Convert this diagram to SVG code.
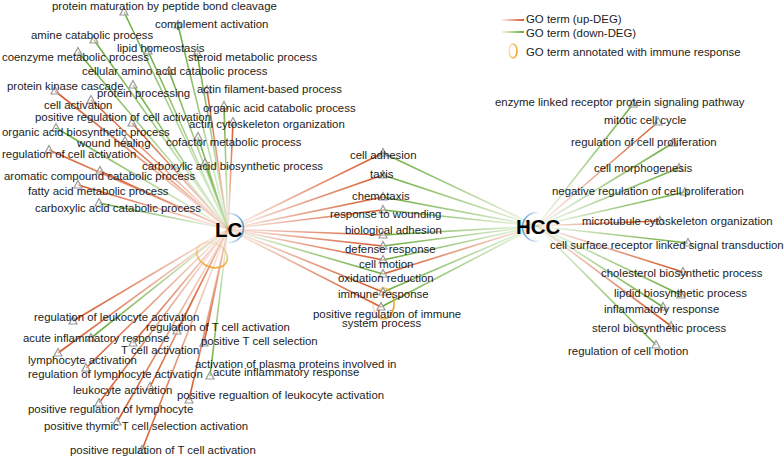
<svg xmlns="http://www.w3.org/2000/svg" xmlns:xlink="http://www.w3.org/1999/xlink" width="784" height="458" viewBox="0 0 784 458">
<style>
.t{font-family:"Liberation Sans",Arial,Helvetica,sans-serif;font-size:11.4px;fill:#1c1c1c}
.hub{font-family:"Liberation Sans",Arial,Helvetica,sans-serif;font-size:20.5px;font-weight:bold;fill:#000}
.e{fill:none;stroke-width:1.6}
.oUL{stroke:url(#oUL)}.oUR{stroke:url(#oUR)}.oDL{stroke:url(#oDL)}.oDR{stroke:url(#oDR)}
.gUL{stroke:url(#gUL)}.gUR{stroke:url(#gUR)}.gDL{stroke:url(#gDL)}.gDR{stroke:url(#gDR)}
.tri{fill:#ffffff;fill-opacity:0.45;stroke:#9a9a9a;stroke-width:1.2}
.imm{fill:none;stroke:url(#immG);stroke-width:1.6}
</style>
<defs>
<linearGradient id="oUL" x1="1" y1="1" x2="0" y2="0"><stop offset="0" stop-color="#d4582a" stop-opacity="0.06"/><stop offset="0.5" stop-color="#d4582a" stop-opacity="0.55"/><stop offset="1" stop-color="#d4582a"/></linearGradient>
<linearGradient id="oUR" x1="0" y1="1" x2="1" y2="0"><stop offset="0" stop-color="#d4582a" stop-opacity="0.06"/><stop offset="0.5" stop-color="#d4582a" stop-opacity="0.55"/><stop offset="1" stop-color="#d4582a"/></linearGradient>
<linearGradient id="oDL" x1="1" y1="0" x2="0" y2="1"><stop offset="0" stop-color="#d4582a" stop-opacity="0.06"/><stop offset="0.5" stop-color="#d4582a" stop-opacity="0.55"/><stop offset="1" stop-color="#d4582a"/></linearGradient>
<linearGradient id="oDR" x1="0" y1="0" x2="1" y2="1"><stop offset="0" stop-color="#d4582a" stop-opacity="0.06"/><stop offset="0.5" stop-color="#d4582a" stop-opacity="0.55"/><stop offset="1" stop-color="#d4582a"/></linearGradient>
<linearGradient id="gUL" x1="1" y1="1" x2="0" y2="0"><stop offset="0" stop-color="#6aac3a" stop-opacity="0.06"/><stop offset="0.5" stop-color="#6aac3a" stop-opacity="0.55"/><stop offset="1" stop-color="#6aac3a"/></linearGradient>
<linearGradient id="gUR" x1="0" y1="1" x2="1" y2="0"><stop offset="0" stop-color="#6aac3a" stop-opacity="0.06"/><stop offset="0.5" stop-color="#6aac3a" stop-opacity="0.55"/><stop offset="1" stop-color="#6aac3a"/></linearGradient>
<linearGradient id="gDL" x1="1" y1="0" x2="0" y2="1"><stop offset="0" stop-color="#6aac3a" stop-opacity="0.06"/><stop offset="0.5" stop-color="#6aac3a" stop-opacity="0.55"/><stop offset="1" stop-color="#6aac3a"/></linearGradient>
<linearGradient id="gDR" x1="0" y1="0" x2="1" y2="1"><stop offset="0" stop-color="#6aac3a" stop-opacity="0.06"/><stop offset="0.5" stop-color="#6aac3a" stop-opacity="0.55"/><stop offset="1" stop-color="#6aac3a"/></linearGradient>
<linearGradient id="legO" x1="0" y1="0" x2="1" y2="0"><stop offset="0" stop-color="#d4582a" stop-opacity="0.1"/><stop offset="1" stop-color="#d4582a"/></linearGradient>
<linearGradient id="legG" x1="0" y1="0" x2="1" y2="0"><stop offset="0" stop-color="#6aac3a" stop-opacity="0.1"/><stop offset="1" stop-color="#6aac3a"/></linearGradient>
<linearGradient id="immG" x1="0" y1="0" x2="1" y2="0.3"><stop offset="0" stop-color="#efa52c" stop-opacity="0.25"/><stop offset="1" stop-color="#efa52c"/></linearGradient>
<linearGradient id="immLC" x1="0.2" y1="0" x2="0.8" y2="1"><stop offset="0" stop-color="#efa52c" stop-opacity="0.1"/><stop offset="1" stop-color="#efa52c"/></linearGradient>
<linearGradient id="blueR" x1="0" y1="0" x2="1" y2="0"><stop offset="0.4" stop-color="#5b9bd5" stop-opacity="0"/><stop offset="1" stop-color="#5b9bd5"/></linearGradient>
<linearGradient id="blueL" x1="1" y1="0" x2="0" y2="0"><stop offset="0.4" stop-color="#5b9bd5" stop-opacity="0"/><stop offset="1" stop-color="#5b9bd5"/></linearGradient>
<path id="tri" class="tri" d="M0,-4.5 L4,3 L-4,3 Z"/>
</defs>
<rect width="784" height="458" fill="#ffffff"/>

<g id="connectors">
<!-- LC top-left -->
<line class="e gUL" x1="228" y1="229" x2="124" y2="12"/>
<line class="e gUL" x1="228" y1="229" x2="178" y2="25"/>
<line class="e gUL" x1="228" y1="229" x2="94" y2="40"/>
<line class="e gUL" x1="228" y1="229" x2="148" y2="51"/>
<line class="e gUL" x1="228" y1="229" x2="78" y2="52"/>
<line class="e gUL" x1="228" y1="229" x2="197" y2="53"/>
<line class="e gUL" x1="228" y1="229" x2="169" y2="71"/>
<line class="e oUL" x1="228" y1="229" x2="55" y2="91"/>
<line class="e gUL" x1="228" y1="229" x2="133" y2="85"/>
<line class="e oUL" x1="228" y1="229" x2="207" y2="90"/>
<line class="e oUL" x1="228" y1="229" x2="91" y2="100"/>
<line class="e gUL" x1="228" y1="229" x2="224" y2="106"/>
<line class="e oUL" x1="228" y1="229" x2="132" y2="123"/>
<line class="e oUR" x1="228" y1="229" x2="233" y2="122"/>
<line class="e gUL" x1="228" y1="229" x2="56" y2="128"/>
<line class="e oUL" x1="228" y1="229" x2="125" y2="141"/>
<line class="e gUL" x1="228" y1="229" x2="198" y2="137"/>
<line class="e oUL" x1="228" y1="229" x2="49" y2="150"/>
<line class="e gUL" x1="228" y1="229" x2="205" y2="163"/>
<line class="e oUL" x1="228" y1="229" x2="100" y2="171"/>
<line class="e oUL" x1="228" y1="229" x2="78" y2="185"/>
<line class="e gUL" x1="228" y1="229" x2="99" y2="203"/>
<!-- LC to middle -->
<line class="e oUR" x1="228" y1="229" x2="383" y2="153"/>
<line class="e oUR" x1="228" y1="229" x2="383" y2="175"/>
<line class="e oUR" x1="228" y1="229" x2="383" y2="197"/>
<line class="e oUR" x1="228" y1="229" x2="383" y2="210"/>
<line class="e oDR" x1="228" y1="229" x2="383" y2="235"/>
<line class="e oDR" x1="228" y1="229" x2="383" y2="246"/>
<line class="e oDR" x1="228" y1="229" x2="383" y2="260"/>
<line class="e gDR" x1="228" y1="229" x2="383" y2="274"/>
<line class="e oDR" x1="228" y1="229" x2="383" y2="292"/>
<line class="e oDR" x1="228" y1="229" x2="381" y2="307"/>
<!-- HCC to middle -->
<line class="e gUL" x1="537" y1="226" x2="383" y2="153"/>
<line class="e gUL" x1="537" y1="226" x2="383" y2="175"/>
<line class="e gUL" x1="537" y1="226" x2="383" y2="197"/>
<line class="e gUL" x1="537" y1="226" x2="383" y2="210"/>
<line class="e gDL" x1="537" y1="226" x2="383" y2="235"/>
<line class="e gDL" x1="537" y1="226" x2="383" y2="246"/>
<line class="e gDL" x1="537" y1="226" x2="383" y2="260"/>
<line class="e oDL" x1="537" y1="226" x2="383" y2="274"/>
<line class="e gDL" x1="537" y1="226" x2="383" y2="292"/>
<line class="e gDL" x1="537" y1="226" x2="381" y2="307"/>
<!-- HCC right -->
<line class="e gUR" x1="537" y1="226" x2="633" y2="104"/>
<line class="e oUR" x1="537" y1="226" x2="658" y2="122"/>
<line class="e gUR" x1="537" y1="226" x2="673" y2="143"/>
<line class="e gUR" x1="537" y1="226" x2="679" y2="168"/>
<line class="e gUR" x1="537" y1="226" x2="685" y2="192"/>
<line class="e oUR" x1="537" y1="226" x2="660" y2="221"/>
<line class="e gDR" x1="537" y1="226" x2="688" y2="243"/>
<line class="e oDR" x1="537" y1="226" x2="683" y2="272"/>
<line class="e gDR" x1="537" y1="226" x2="681" y2="295"/>
<line class="e gDR" x1="537" y1="226" x2="663" y2="307"/>
<line class="e oDR" x1="537" y1="226" x2="671" y2="326"/>
<line class="e gDR" x1="537" y1="226" x2="656" y2="345"/>
<!-- LC bottom-left -->
<line class="e oDL" x1="228" y1="229" x2="73" y2="321"/>
<line class="e gDL" x1="228" y1="229" x2="91" y2="338"/>
<line class="e oDL" x1="228" y1="229" x2="177" y2="331"/>
<line class="e oDL" x1="228" y1="229" x2="204" y2="343"/>
<line class="e oDL" x1="228" y1="229" x2="133" y2="343"/>
<line class="e oDL" x1="228" y1="229" x2="58" y2="353"/>
<line class="e gDL" x1="228" y1="229" x2="210" y2="376"/>
<line class="e oDL" x1="228" y1="229" x2="86" y2="368"/>
<line class="e oDL" x1="228" y1="229" x2="150" y2="387"/>
<line class="e oDL" x1="228" y1="229" x2="189" y2="400"/>
<line class="e oDL" x1="228" y1="229" x2="99" y2="403"/>
<line class="e oDL" x1="228" y1="229" x2="117" y2="422"/>
<line class="e oDL" x1="228" y1="229" x2="142" y2="450"/>
</g>

<g id="hub-LC">
<circle cx="229" cy="228" r="14.5" fill="none" stroke="url(#blueR)" stroke-width="1.6"/>
<ellipse cx="212" cy="255" rx="16" ry="12" transform="rotate(25 212 255)" fill="none" stroke="url(#immLC)" stroke-width="1.8"/>
<text class="hub" x="215" y="237">LC</text>
</g>
<g id="hub-HCC">
<circle cx="537" cy="227" r="14.5" fill="none" stroke="url(#blueL)" stroke-width="1.6"/>
<text class="hub" x="516" y="234">HCC</text>
</g>

<!-- LC top-left terms -->
<g id="n1"><use href="#tri" x="124" y="12"/><text class="t" x="52" y="10">protein maturation by peptide bond cleavage</text></g>
<g id="n2"><use href="#tri" x="178" y="25"/><text class="t" x="155" y="28">complement activation</text></g>
<g id="n3"><use href="#tri" x="94" y="40"/><text class="t" x="31" y="39">amine catabolic process</text></g>
<g id="n4"><use href="#tri" x="148" y="51"/><text class="t" x="117" y="52">lipid homeostasis</text></g>
<g id="n5"><use href="#tri" x="78" y="52"/><text class="t" x="2" y="61">coenzyme metabolic process</text></g>
<g id="n6"><use href="#tri" x="197" y="53"/><text class="t" x="188" y="61">steroid metabolic process</text></g>
<g id="n7"><use href="#tri" x="169" y="71"/><text class="t" x="82" y="75">cellular amino acid catabolic process</text></g>
<g id="n8"><use href="#tri" x="55" y="91"/><text class="t" x="7" y="90">protein kinase cascade</text></g>
<g id="n9"><use href="#tri" x="133" y="85"/><text class="t" x="97" y="97">protein processing</text></g>
<g id="n10"><use href="#tri" x="207" y="90"/><text class="t" x="197" y="93">actin filament-based process</text></g>
<g id="n11"><use href="#tri" x="91" y="100"/><text class="t" x="44" y="109">cell activation</text></g>
<g id="n12"><use href="#tri" x="224" y="106"/><text class="t" x="203" y="112">organic acid catabolic process</text></g>
<g id="n13"><use href="#tri" x="132" y="123"/><text class="t" x="35" y="121">positive regulation of cell activation</text></g>
<g id="n14"><use href="#tri" x="233" y="122"/><text class="t" x="189" y="128">actin cytoskeleton organization</text></g>
<g id="n15"><use href="#tri" x="56" y="128"/><text class="t" x="2" y="136">organic acid biosynthetic process</text></g>
<g id="n16"><use href="#tri" x="125" y="141"/><text class="t" x="77" y="147">wound healing</text></g>
<g id="n17"><use href="#tri" x="198" y="137"/><text class="t" x="166" y="146">cofactor metabolic process</text></g>
<g id="n18"><use href="#tri" x="49" y="150"/><text class="t" x="2" y="158">regulation of cell activation</text></g>
<g id="n19"><use href="#tri" x="205" y="163"/><text class="t" x="142" y="170">carboxylic acid biosynthetic process</text></g>
<g id="n20"><use href="#tri" x="100" y="171"/><text class="t" x="4" y="180">aromatic compound catabolic process</text></g>
<g id="n21"><use href="#tri" x="78" y="185"/><text class="t" x="28" y="195">fatty acid metabolic process</text></g>
<g id="n22"><use href="#tri" x="99" y="203"/><text class="t" x="35" y="212">carboxylic acid catabolic process</text></g>

<!-- middle terms -->
<g id="m1"><use href="#tri" x="383" y="153"/><text class="t" x="350" y="159">cell adhesion</text></g>
<g id="m2"><use href="#tri" x="383" y="175"/><text class="t" x="370" y="178">taxis</text></g>
<g id="m3"><use href="#tri" x="383" y="197"/><text class="t" x="352" y="200">chemotaxis</text></g>
<g id="m4"><use href="#tri" x="383" y="210"/><text class="t" x="330" y="218">response to wounding</text></g>
<g id="m5"><use href="#tri" x="383" y="235"/><text class="t" x="345" y="234">biological adhesion</text></g>
<g id="m6"><use href="#tri" x="383" y="246"/><text class="t" x="345" y="253">defense response</text></g>
<g id="m7"><use href="#tri" x="383" y="260"/><text class="t" x="359" y="268">cell motion</text></g>
<g id="m8"><use href="#tri" x="383" y="274"/><text class="t" x="338" y="282">oxidation reduction</text></g>
<g id="m9"><ellipse class="imm" cx="383.5" cy="303.5" rx="10.5" ry="15.5"/><use href="#tri" x="383" y="292"/><text class="t" x="338" y="298">immune response</text></g>
<g id="m10"><use href="#tri" x="381" y="307"/><text class="t" x="313" y="318">positive regulation of immune</text><text class="t" x="342" y="327">system process</text></g>

<!-- HCC right terms -->
<g id="h1"><use href="#tri" x="633" y="104"/><text class="t" x="495" y="106">enzyme linked receptor protein signaling pathway</text></g>
<g id="h2"><use href="#tri" x="658" y="122"/><text class="t" x="604" y="124">mitotic cell cycle</text></g>
<g id="h3"><use href="#tri" x="673" y="143"/><text class="t" x="571" y="146">regulation of cell proliferation</text></g>
<g id="h4"><use href="#tri" x="679" y="168"/><text class="t" x="594" y="172">cell morphogenesis</text></g>
<g id="h5"><use href="#tri" x="685" y="192"/><text class="t" x="552" y="195">negative regulation of cell proliferation</text></g>
<g id="h6"><use href="#tri" x="660" y="221"/><text class="t" x="582" y="225">microtubule cytoskeleton organization</text></g>
<g id="h7"><use href="#tri" x="688" y="243"/><text class="t" x="550" y="249">cell surface receptor linked signal transduction</text></g>
<g id="h8"><use href="#tri" x="683" y="272"/><text class="t" x="601" y="277">cholesterol biosynthetic process</text></g>
<g id="h9"><use href="#tri" x="681" y="295"/><text class="t" x="614" y="297">lipdid biosynthetic process</text></g>
<g id="h10"><use href="#tri" x="663" y="307"/><text class="t" x="604" y="313">inflammatory response</text></g>
<g id="h11"><use href="#tri" x="671" y="326"/><text class="t" x="592" y="332">sterol biosynthetic process</text></g>
<g id="h12"><use href="#tri" x="656" y="345"/><text class="t" x="568" y="355">regulation of cell motion</text></g>

<!-- LC bottom-left terms -->
<g id="b1"><use href="#tri" x="73" y="321"/><text class="t" x="34" y="321">regulation of leukocyte activation</text></g>
<g id="b2"><use href="#tri" x="91" y="338"/><text class="t" x="23" y="342">acute inflammatory response</text></g>
<g id="b3"><use href="#tri" x="177" y="331"/><text class="t" x="146" y="331">regulation of T cell activation</text></g>
<g id="b4"><use href="#tri" x="204" y="343"/><text class="t" x="201" y="345">positive T cell selection</text></g>
<g id="b5"><use href="#tri" x="133" y="343"/><text class="t" x="121" y="354">T cell activation</text></g>
<g id="b6"><use href="#tri" x="58" y="353"/><text class="t" x="28" y="364">lymphocyte activation</text></g>
<g id="b7"><use href="#tri" x="210" y="376"/><text class="t" x="195" y="368">activation of plasma proteins involved in</text><text class="t" x="213" y="376">acute inflammatory response</text></g>
<g id="b8"><use href="#tri" x="86" y="368"/><text class="t" x="28" y="378">regulation of lymphocyte activation</text></g>
<g id="b9"><use href="#tri" x="150" y="387"/><text class="t" x="73" y="394">leukocyte activation</text></g>
<g id="b10"><use href="#tri" x="189" y="400"/><text class="t" x="177" y="399">positive regualtion of leukocyte activation</text></g>
<g id="b11"><use href="#tri" x="99" y="403"/><text class="t" x="28" y="413">positive regulation of lymphocyte</text></g>
<g id="b12"><use href="#tri" x="117" y="422"/><text class="t" x="44" y="430">positive thymic T cell selection activation</text></g>
<g id="b13"><use href="#tri" x="142" y="450"/><text class="t" x="70" y="454">positive regulation of T cell activation</text></g>

<g id="legend">
<rect x="502" y="19" width="22" height="2" fill="url(#legO)"/>
<text class="t" x="526" y="23">GO term (up-DEG)</text>
<rect x="502" y="31" width="22" height="2" fill="url(#legG)"/>
<text class="t" x="526" y="37">GO term (down-DEG)</text>
<ellipse cx="513" cy="51" rx="4" ry="7" fill="none" stroke="url(#immG)" stroke-width="1.5"/>
<text class="t" x="526" y="56">GO term annotated with immune response</text>
</g>
</svg>
